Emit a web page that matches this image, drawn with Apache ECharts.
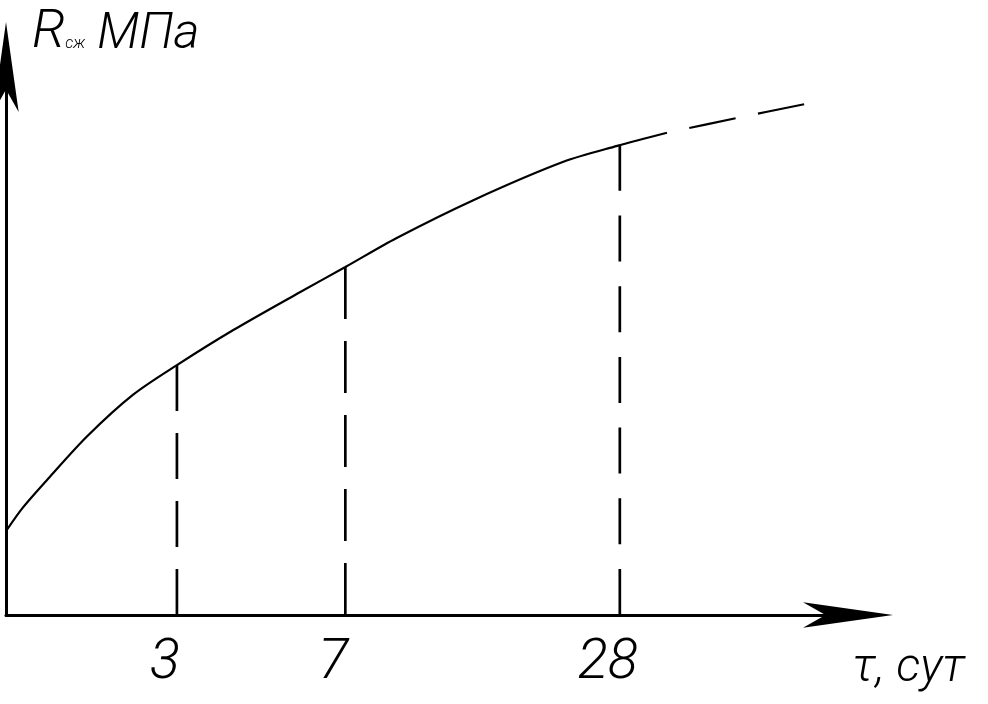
<!DOCTYPE html>
<html>
<head>
<meta charset="utf-8">
<script src="https://cdn.jsdelivr.net/npm/echarts@6/dist/echarts.min.js"></script>
<style>html,body{margin:0;padding:0;background:#fff}#c{width:988px;height:704px}</style>
</head>
<body>
<div id="c"></div>
<script>
// Schematic strength-gain curve (x in schematic time units, y in schematic strength units)
const tickLabels = ['3', '7', '28'];
const tickPos = [20.3, 40.3, 72.9];
const tickCurveVal = [45.6, 63.5, 85.8];

const curveX = [0, 2.0, 5.2, 9.7, 15.1, 20.3, 27.0, 34.9, 40.3, 46.4, 55.5, 66.2, 72.6, 78.5];
const curveY = [15.3, 19.6, 25.2, 32.7, 40.2, 45.6, 52.0, 58.9, 63.5, 68.8, 75.7, 82.7, 85.6, 88.0];
const extX = [78.5, 86.8, 95.1];
const extY = [88.0, 90.7, 93.3];

const FONT = "Roboto, 'DejaVu Sans Condensed', sans-serif";
const DROP_DASH = [[46, 22], [52, 22], [46, 24.7]];

const chart = echarts.init(document.getElementById('c'), null, {renderer: 'canvas'});

const series = [
  {
    type: 'line', data: curveX.map((x, i) => [x, curveY[i]]),
    showSymbol: false, smooth: 0.3, silent: true,
    lineStyle: {color: '#000', width: 2.2}
  },
  {
    type: 'line', data: extX.map((x, i) => [x, extY[i]]),
    showSymbol: false, smooth: 0.3, silent: true,
    lineStyle: {color: '#000', width: 2.2, type: [47, 23], dashOffset: 47}
  }
];
tickPos.forEach((x, i) => {
  series.push({
    type: 'line', data: [[x, tickCurveVal[i]], [x, 0]],
    showSymbol: false, silent: true,
    lineStyle: {color: '#000', width: 2.7, type: DROP_DASH[i]}
  });
});

chart.setOption({
  animation: false,
  backgroundColor: '#fff',
  grid: {left: 6, right: 140, top: 67, bottom: 89, containLabel: false, outerBoundsMode: 'none'},
  xAxis: {
    type: 'value', min: 0, max: 100,
    splitLine: {show: false},
    axisTick: {show: false},
    axisLine: {show: true, onZero: true, symbol: ['none', 'arrow'], symbolSize: [19, 90],
      symbolOffset: [0, 45],
      lineStyle: {color: '#000', width: 3}},
    axisLabel: {
      customValues: tickPos,
      formatter: v => tickLabels[tickPos.indexOf(v)] || '',
      fontFamily: FONT, fontStyle: 'italic', fontWeight: 300, fontSize: 56, color: '#000',
      margin: 21, padding: [0, 24, 0, 0]
    },
    name: 'τ, сут',
    nameLocation: 'end',
    nameGap: 4,
    nameTextStyle: {fontFamily: FONT, fontStyle: 'italic', fontWeight: 300, fontSize: 48, color: '#000',
      align: 'left', verticalAlign: 'top', padding: [30, 0, 0, 0]}
  },
  yAxis: {
    type: 'value', min: 0, max: 100,
    splitLine: {show: false},
    axisTick: {show: false},
    axisLabel: {show: false},
    axisLine: {show: true, onZero: true, symbol: ['none', 'arrow'], symbolSize: [19, 90],
      symbolOffset: [0, 45],
      lineStyle: {color: '#000', width: 3}},
    name: '{a|R}{b|сж}{c|МПа}',
    nameLocation: 'end',
    nameGap: 34,
    nameTextStyle: {
      align: 'left', verticalAlign: 'middle', padding: [0, 0, 0, 26],
      rich: {
        a: {fontFamily: FONT, fontStyle: 'italic', fontWeight: 300, fontSize: 54, color: '#000', verticalAlign: 'bottom'},
        b: {fontFamily: FONT, fontStyle: 'italic', fontWeight: 300, fontSize: 16, color: '#000', verticalAlign: 'bottom', padding: [0, 0, 8, 0]},
        c: {fontFamily: FONT, fontStyle: 'italic', fontWeight: 300, fontSize: 50, color: '#000', verticalAlign: 'bottom', padding: [0, 0, 0, 12]}
      }
    }
  },
  series: series
});
</script>
</body>
</html>
